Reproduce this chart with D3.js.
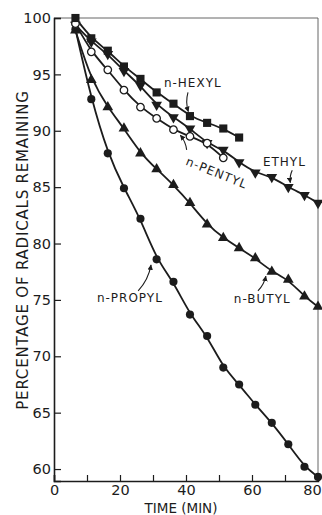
<!DOCTYPE html>
<html>
<head>
<meta charset="utf-8">
<script src="https://cdn.jsdelivr.net/npm/d3@7"></script>
<style>
  body { margin: 0; background: #fff; }
  text { font-family: "DejaVu Sans", sans-serif; fill: #1c1c1c; }
</style>
</head>
<body>
<div id="chart"></div>
<script>
// sampling times (min), shared by every series
const times = [6.5, 11.3, 16.3, 21.2, 26.2, 31.1, 36.2, 41.2, 46.4, 51.3, 56.1, 61.0, 66.0, 71.0, 75.9, 80.0];

// percentage of radicals remaining
const propyl = [99.0, 92.8, 88.0, 84.9, 82.2, 78.6, 76.6, 73.7, 71.8, 69.0, 67.5, 65.7, 64.1, 62.2, 60.2, 59.3];
const butyl  = [98.9, 94.5, 92.1, 90.2, 88.0, 86.6, 85.2, 83.6, 81.7, 80.5, 79.6, 78.7, 77.5, 76.8, 75.3, 74.4];
const ethyl  = [99.4, 97.9, 96.8, 95.3, 94.0, 92.3, 91.2, 90.2, 88.9, 88.3, 87.2, 86.3, 85.9, 85.0, 84.3, 83.6];
const pentyl = [99.5, 97.0, 95.4, 93.6, 92.1, 91.1, 90.1, 89.5, 88.9, 87.6];
const hexyl  = [100.0, 98.2, 97.1, 95.7, 94.6, 93.4, 92.4, 91.3, 90.7, 90.2, 89.4];

const xTicks = [0, 20, 40, 60, 80];
const xMinor = [10, 30, 50, 70];
const yTicks = [60, 65, 70, 75, 80, 85, 90, 95, 100];

// curve labels: text position and arrow (tail -> head) in data units
const labels = [
  {text: "n-HEXYL",  t: 33.3, v: 93.9, rot: 0,  arrow: [[40.6, 93.4], [40.7, 91.7]]},
  {text: "ETHYL",    t: 63.3, v: 86.9, rot: 0,  arrow: [[72.2, 86.5], [71.6, 85.4]]},
  {text: "n-PENTYL", t: 39.7, v: 87.0, rot: 22, arrow: [[40.2, 88.3], [38.3, 89.6]]},
  {text: "n-BUTYL",  t: 54.5, v: 74.7, rot: 0,  arrow: [[61.8, 75.8], [64.2, 77.1]]},
  {text: "n-PROPYL", t: 13.0, v: 74.8, rot: 0,  arrow: [[25.5, 75.8], [29.4, 78.1]]}
];

const W = 322, H = 515;
const margin = {top: 18, right: 4, bottom: 34, left: 54};
const width = W - margin.left - margin.right,
      height = H - margin.top - margin.bottom;

const svg = d3.select("#chart").append("svg")
    .attr("width", W)
    .attr("height", H);

svg.append("defs").append("marker")
    .attr("id", "head")
    .attr("viewBox", "0 0 10 10")
    .attr("refX", 9).attr("refY", 5)
    .attr("markerWidth", 5).attr("markerHeight", 5)
    .attr("orient", "auto")
    .append("path")
    .attr("d", "M0,0L10,5L0,10z")
    .attr("fill", "#1c1c1c");

const g = svg.append("g")
    .attr("transform", `translate(${margin.left},${margin.top})`);

const x = d3.scaleLinear().domain([0, 80]).range([0, width]);
const y = d3.scaleLinear().domain([58.94, 100]).range([height, 0]);

// frame: top and right edges
g.append("line")
    .attr("x1", 0).attr("x2", width).attr("y1", 0).attr("y2", 0)
    .attr("stroke", "#555").attr("stroke-width", 0.9);
g.append("line")
    .attr("x1", width).attr("x2", width).attr("y1", 0).attr("y2", height)
    .attr("stroke", "#555").attr("stroke-width", 0.9);

// axes, ticks point inward
const xAxis = g.append("g")
    .attr("transform", `translate(0,${height})`)
    .call(d3.axisBottom(x).tickValues(xTicks.concat(xMinor)).tickSize(-6).tickPadding(4)
        .tickFormat(d => xTicks.includes(d) ? d : ""));
const yAxis = g.append("g")
    .call(d3.axisLeft(y).tickValues(yTicks).tickSize(-7).tickPadding(3));

[xAxis, yAxis].forEach(a => {
    a.select(".domain").attr("stroke", "#1c1c1c").attr("stroke-width", 1.6);
    a.selectAll(".tick line").attr("stroke", "#1c1c1c").attr("stroke-width", 1.2);
    a.selectAll(".tick text").style("font-size", "14.5px").attr("fill", "#1c1c1c");
});
// last label sits against the page edge
xAxis.selectAll(".tick text").filter(d => d === 80).attr("dx", "-6px");

// axis titles
g.append("text")
    .attr("x", x(40) - 5)
    .attr("y", height + 32)
    .attr("text-anchor", "middle")
    .style("font-size", "13.5px")
    .text("TIME (MIN)");

g.append("text")
    .attr("transform", `translate(${28 - margin.left},${250 - margin.top}) rotate(-90)`)
    .attr("text-anchor", "middle")
    .style("font-size", "15px")
    .style("letter-spacing", "0.8px")
    .text("PERCENTAGE OF RADICALS REMAINING");

// series
const series = [
    {vals: propyl, shape: "dot"},
    {vals: butyl,  shape: "up"},
    {vals: ethyl,  shape: "down"},
    {vals: pentyl, shape: "open"},
    {vals: hexyl,  shape: "square"}
];

const line = d3.line()
    .x((d, i) => x(times[i]))
    .y(d => y(d))
    .curve(d3.curveBasis);

series.forEach(s => {
    g.append("path")
        .datum(s.vals)
        .attr("fill", "none")
        .attr("stroke", "#1c1c1c")
        .attr("stroke-width", 1.8)
        .attr("d", line);
});

series.forEach(s => {
    const pts = g.append("g").selectAll("path")
        .data(s.vals)
        .join("path")
        .attr("transform", (d, i) => `translate(${x(times[i])},${y(d)})` + (s.shape === "down" ? " rotate(180)" : ""));
    if (s.shape === "dot") {
        pts.attr("d", d3.symbol(d3.symbolCircle, 52)).attr("fill", "#1c1c1c");
    } else if (s.shape === "up" || s.shape === "down") {
        pts.attr("d", d3.symbol(d3.symbolTriangle, 50)).attr("fill", "#1c1c1c");
    } else if (s.shape === "square") {
        pts.attr("d", d3.symbol(d3.symbolSquare, 66)).attr("fill", "#1c1c1c");
    } else {
        pts.attr("d", d3.symbol(d3.symbolCircle, 44))
            .attr("fill", "#fff").attr("stroke", "#1c1c1c").attr("stroke-width", 1.3);
    }
});

// labels with arrows
labels.forEach(l => {
    g.append("text")
        .attr("transform", `translate(${x(l.t)},${y(l.v)}) rotate(${l.rot})`)
        .style("font-size", "12px")
        .style("letter-spacing", "1px")
        .text(l.text);
    const [a, b] = l.arrow;
    const ax = x(a[0]), ay = y(a[1]), bx = x(b[0]), by = y(b[1]);
    const cx = (ax + bx) / 2 - (by - ay) * 0.15, cy = (ay + by) / 2 + (bx - ax) * 0.15;
    g.append("path")
        .attr("d", `M${ax},${ay}Q${cx},${cy} ${bx},${by}`)
        .attr("fill", "none")
        .attr("stroke", "#1c1c1c")
        .attr("stroke-width", 1.1)
        .attr("marker-end", "url(#head)");
});
</script>
</body>
</html>
